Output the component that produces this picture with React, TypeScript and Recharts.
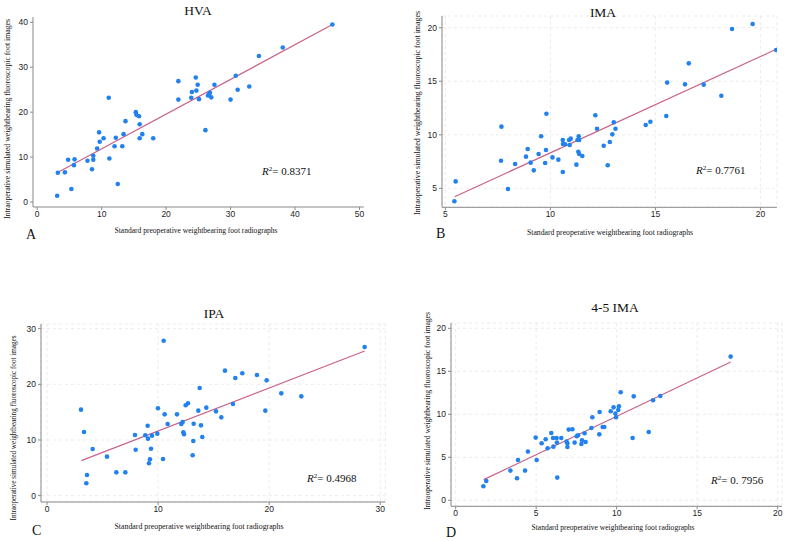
import React from "react";
import {
  ScatterChart,
  Scatter,
  XAxis,
  YAxis,
  CartesianGrid,
  ReferenceLine
} from "recharts";

type Pt = { x: number; y: number };

// HVA
const hvaPoints: Pt[] = [
  { x: 3.1, y: 1.4 }, { x: 3.2, y: 6.5 }, { x: 4.3, y: 6.6 }, { x: 4.8, y: 9.4 },
  { x: 5.3, y: 2.9 }, { x: 5.7, y: 8.2 }, { x: 5.8, y: 9.5 }, { x: 7.8, y: 9.2 },
  { x: 8.5, y: 7.3 }, { x: 8.7, y: 10.3 }, { x: 8.7, y: 9.4 }, { x: 9.3, y: 11.9 },
  { x: 9.6, y: 15.5 }, { x: 9.7, y: 13.4 }, { x: 10.3, y: 14.2 }, { x: 11.1, y: 23.2 },
  { x: 11.2, y: 9.7 }, { x: 12.0, y: 12.4 }, { x: 12.2, y: 14.3 }, { x: 12.5, y: 4.0 },
  { x: 13.2, y: 12.4 }, { x: 13.4, y: 15.1 }, { x: 13.7, y: 18.0 }, { x: 15.3, y: 20.0 },
  { x: 15.4, y: 19.4 }, { x: 15.8, y: 19.1 }, { x: 15.9, y: 17.3 }, { x: 15.9, y: 14.2 },
  { x: 16.3, y: 15.1 }, { x: 18.0, y: 14.2 }, { x: 21.9, y: 26.9 }, { x: 21.9, y: 22.8 },
  { x: 23.9, y: 23.2 }, { x: 24.0, y: 24.5 }, { x: 24.6, y: 27.7 }, { x: 24.7, y: 24.8 },
  { x: 24.9, y: 26.1 }, { x: 25.1, y: 22.9 }, { x: 26.1, y: 16.0 }, { x: 26.5, y: 23.7 },
  { x: 26.7, y: 24.1 }, { x: 26.8, y: 24.3 }, { x: 27.0, y: 23.3 }, { x: 27.5, y: 26.1 },
  { x: 30.0, y: 22.8 }, { x: 30.8, y: 28.1 }, { x: 31.1, y: 25.0 }, { x: 32.9, y: 25.7 },
  { x: 34.4, y: 32.5 }, { x: 38.1, y: 34.4 }, { x: 45.8, y: 39.5 }
];
const hvaFit: Pt[] = [{ x: 3.1, y: 6.5 }, { x: 45.8, y: 39.5 }];
const hvaXTicks = [0, 10, 20, 30, 40, 50];
const hvaYTicks = [0, 10, 20, 30, 40];

// IMA
const imaPoints: Pt[] = [
  { x: 5.43, y: 3.79 }, { x: 5.49, y: 5.65 }, { x: 7.67, y: 10.76 }, { x: 7.65, y: 7.58 },
  { x: 7.98, y: 4.94 }, { x: 8.32, y: 7.27 }, { x: 8.84, y: 7.96 }, { x: 8.92, y: 8.67 },
  { x: 9.06, y: 7.4 }, { x: 9.21, y: 6.68 }, { x: 9.44, y: 8.21 }, { x: 9.56, y: 9.86 },
  { x: 9.75, y: 7.37 }, { x: 9.79, y: 8.58 }, { x: 9.81, y: 11.97 }, { x: 10.1, y: 7.89 },
  { x: 10.38, y: 7.68 }, { x: 10.59, y: 9.51 }, { x: 10.6, y: 9.14 }, { x: 10.59, y: 6.53 },
  { x: 10.7, y: 9.11 }, { x: 10.89, y: 9.51 }, { x: 10.92, y: 9.05 }, { x: 10.97, y: 9.64 },
  { x: 11.24, y: 7.21 }, { x: 11.29, y: 9.51 }, { x: 11.35, y: 9.86 }, { x: 11.37, y: 9.51 },
  { x: 11.33, y: 8.42 }, { x: 11.37, y: 8.21 }, { x: 11.52, y: 8.02 }, { x: 12.14, y: 11.82 },
  { x: 12.22, y: 10.57 }, { x: 12.54, y: 8.98 }, { x: 12.73, y: 7.15 }, { x: 12.83, y: 9.33 },
  { x: 12.95, y: 10.04 }, { x: 13.02, y: 11.16 }, { x: 13.1, y: 10.57 }, { x: 14.54, y: 10.91 },
  { x: 14.76, y: 11.22 }, { x: 15.52, y: 11.75 }, { x: 15.56, y: 14.87 }, { x: 16.41, y: 14.71 },
  { x: 16.59, y: 16.67 }, { x: 17.3, y: 14.68 }, { x: 18.14, y: 13.65 }, { x: 18.65, y: 19.88 },
  { x: 19.63, y: 20.34 }, { x: 20.75, y: 17.92 }
];
const imaFit: Pt[] = [{ x: 5.44, y: 4.22 }, { x: 20.75, y: 17.98 }];
const imaXTicks = [5, 10, 15, 20];
const imaYTicks = [5, 10, 15, 20];

// IPA
const ipaPoints: Pt[] = [
  { x: 3.06, y: 15.45 }, { x: 3.33, y: 11.44 }, { x: 3.6, y: 3.71 }, { x: 3.54, y: 2.22 },
  { x: 4.11, y: 8.38 }, { x: 5.4, y: 7.01 }, { x: 6.24, y: 4.19 }, { x: 7.05, y: 4.19 },
  { x: 7.92, y: 10.9 }, { x: 7.98, y: 8.26 }, { x: 8.85, y: 10.84 }, { x: 9.06, y: 12.57 },
  { x: 9.09, y: 10.24 }, { x: 9.18, y: 5.81 }, { x: 9.27, y: 6.53 }, { x: 9.36, y: 8.44 },
  { x: 9.45, y: 10.78 }, { x: 9.93, y: 11.14 }, { x: 9.99, y: 15.69 }, { x: 10.44, y: 6.59 },
  { x: 10.5, y: 27.84 }, { x: 10.59, y: 14.61 }, { x: 10.86, y: 12.87 }, { x: 11.7, y: 14.61 },
  { x: 12.09, y: 12.87 }, { x: 12.21, y: 13.23 }, { x: 12.27, y: 11.38 }, { x: 12.33, y: 11.02 },
  { x: 12.48, y: 16.23 }, { x: 12.69, y: 16.59 }, { x: 13.11, y: 7.25 }, { x: 13.17, y: 9.82 },
  { x: 13.2, y: 12.93 }, { x: 13.62, y: 15.27 }, { x: 13.74, y: 19.34 }, { x: 13.86, y: 12.63 },
  { x: 13.98, y: 10.54 }, { x: 14.34, y: 15.81 }, { x: 15.21, y: 15.15 }, { x: 15.69, y: 14.07 },
  { x: 16.02, y: 22.46 }, { x: 16.74, y: 16.47 }, { x: 16.95, y: 21.14 }, { x: 17.58, y: 21.98 },
  { x: 18.9, y: 21.68 }, { x: 19.65, y: 15.27 }, { x: 19.77, y: 20.72 }, { x: 21.09, y: 18.38 },
  { x: 22.89, y: 17.84 }, { x: 28.59, y: 26.71 }
];
const ipaFit: Pt[] = [{ x: 3.09, y: 6.29 }, { x: 28.59, y: 25.99 }];
const ipaXTicks = [0, 10, 20, 30];
const ipaYTicks = [0, 10, 20, 30];

// 4-5 IMA
const ima45Points: Pt[] = [
  { x: 1.72, y: 1.63 }, { x: 1.9, y: 2.25 }, { x: 3.4, y: 3.45 }, { x: 3.81, y: 2.56 },
  { x: 3.87, y: 4.69 }, { x: 4.31, y: 3.45 }, { x: 4.49, y: 5.66 }, { x: 4.97, y: 7.29 },
  { x: 5.03, y: 4.69 }, { x: 5.34, y: 6.63 }, { x: 5.59, y: 7.09 }, { x: 5.71, y: 6.05 },
  { x: 5.94, y: 7.83 }, { x: 6.05, y: 7.25 }, { x: 6.07, y: 6.24 }, { x: 6.27, y: 7.25 },
  { x: 6.29, y: 6.71 }, { x: 6.31, y: 2.64 }, { x: 6.56, y: 7.25 }, { x: 6.89, y: 6.82 },
  { x: 6.94, y: 6.63 }, { x: 6.94, y: 6.2 }, { x: 7.02, y: 8.22 }, { x: 7.25, y: 8.26 },
  { x: 7.39, y: 6.71 }, { x: 7.52, y: 7.44 }, { x: 7.6, y: 7.56 }, { x: 7.81, y: 6.55 },
  { x: 7.85, y: 6.98 }, { x: 8.01, y: 7.79 }, { x: 8.07, y: 6.78 }, { x: 8.43, y: 8.41 },
  { x: 8.49, y: 9.65 }, { x: 8.92, y: 7.67 }, { x: 8.94, y: 10.27 }, { x: 9.13, y: 8.53 },
  { x: 9.23, y: 8.53 }, { x: 9.63, y: 10.35 }, { x: 9.81, y: 10.81 }, { x: 9.92, y: 10.08 },
  { x: 9.96, y: 9.65 }, { x: 10.1, y: 10.5 }, { x: 10.14, y: 10.93 }, { x: 10.25, y: 12.56 },
  { x: 10.99, y: 7.25 }, { x: 11.06, y: 12.09 }, { x: 11.99, y: 7.95 }, { x: 12.26, y: 11.63 },
  { x: 12.71, y: 12.13 }, { x: 17.08, y: 16.71 }
];
const ima45Fit: Pt[] = [{ x: 1.74, y: 2.4 }, { x: 17.08, y: 16.09 }];
const ima45XTicks = [0, 5, 10, 15, 20];
const ima45YTicks = [0, 5, 10, 15, 20];

const DOT = "#2181ee";
const FIT = "#c9628a";
const AXIS = "#8a8a8a";
const SERIF = "'Liberation Serif', 'Times New Roman', serif";
const SANS = "'Liberation Sans', Arial, sans-serif";

const xLabel = "Standard preoperative weightbearing foot radiographs";
const yLabel = "Intraoperative simulated weightbearing fluoroscopic foot images";

type PanelProps = {
  points: Pt[];
  fit: Pt[];
  xTicks: number[];
  yTicks: number[];
  xDomain: [number, number];
  yDomain: [number, number];
  // plot box in page pixels
  box: { l: number; t: number; r: number; b: number };
  grid: boolean;
};

const Dot = (props: any) => (
  <circle cx={props.cx} cy={props.cy} r={2.3} fill={DOT} />
);

function Panel({ points, fit, xTicks, yTicks, xDomain, yDomain, box, grid }: PanelProps) {
  const yW = 30;
  const xH = 20;
  const left = box.l - yW;
  const top = box.t - 4;
  const width = box.r - left + 4;
  const height = box.b - top + xH;
  const tick = { fontSize: 8.5, fill: "#1e1e1e", fontFamily: SANS };
  return (
    <div style={{ position: "absolute", left, top }}>
      <ScatterChart
        width={width}
        height={height}
        margin={{ top: 4, right: 4, bottom: 0, left: 0 }}
      >
        {grid && (
          <CartesianGrid stroke="#e6e6e6" strokeDasharray="3 3" strokeWidth={0.8} />
        )}
        <XAxis
          type="number"
          dataKey="x"
          domain={xDomain}
          ticks={xTicks}
          allowDataOverflow
          height={xH}
          tick={tick}
          tickSize={3}
          tickMargin={1}
          stroke={AXIS}
          tickLine={{ stroke: AXIS }}
          interval={0}
        />
        <YAxis
          type="number"
          dataKey="y"
          domain={yDomain}
          ticks={yTicks}
          allowDataOverflow
          width={yW}
          tick={tick}
          tickSize={3}
          tickMargin={2}
          stroke={AXIS}
          tickLine={{ stroke: AXIS }}
          interval={0}
        />
        <Scatter data={points} shape={Dot} isAnimationActive={false} />
        <ReferenceLine
          segment={[fit[0], fit[1]]}
          stroke={FIT}
          strokeWidth={1.2}
        />
      </ScatterChart>
    </div>
  );
}

type Annot = {
  title: string;
  titleX: number;
  titleY: number;
  letter: string;
  letterX: number;
  letterY: number;
  xlX: number;
  xlY: number;
  xlLen: number;
  ylX: number;
  ylY: number;
  ylLen: number;
  r2: string;
  r2X: number;
  r2Y: number;
};

const annots: Annot[] = [
  { title: "HVA", titleX: 198, titleY: 15, letter: "A", letterX: 26, letterY: 239,
    xlX: 196, xlY: 233, xlLen: 163, ylX: 10, ylY: 119, ylLen: 200,
    r2: "0.8371", r2X: 262, r2Y: 175 },
  { title: "IMA", titleX: 603, titleY: 17, letter: "B", letterX: 436, letterY: 238,
    xlX: 610, xlY: 235, xlLen: 166, ylX: 420, ylY: 113, ylLen: 204,
    r2: "0.7761", r2X: 696, r2Y: 174 },
  { title: "IPA", titleX: 214, titleY: 318, letter: "C", letterX: 32, letterY: 535,
    xlX: 199, xlY: 529, xlLen: 169, ylX: 16, ylY: 428, ylLen: 185,
    r2: "0.4968", r2X: 307, r2Y: 482 },
  { title: "4-5 IMA", titleX: 615, titleY: 312, letter: "D", letterX: 446, letterY: 537,
    xlX: 613, xlY: 530, xlLen: 163, ylX: 430, ylY: 411, ylLen: 198,
    r2: "0. 7956", r2X: 711, r2Y: 484 }
];

function Labels() {
  return (
    <svg
      width={788}
      height={541}
      style={{ position: "absolute", left: 0, top: 0, pointerEvents: "none" }}
    >
      {annots.map((a) => (
        <g key={a.letter} fontFamily={SERIF} fill="#111">
          <text x={a.titleX} y={a.titleY} textAnchor="middle" fontSize={13.5}>
            {a.title}
          </text>
          <text x={a.letterX} y={a.letterY} fontSize={14}>
            {a.letter}
          </text>
          <text
            x={a.xlX}
            y={a.xlY}
            textAnchor="middle"
            fontSize={7.6}
            textLength={a.xlLen}
            lengthAdjust="spacingAndGlyphs"
          >
            {xLabel}
          </text>
          <text
            x={0}
            y={0}
            transform={`translate(${a.ylX},${a.ylY}) rotate(-90)`}
            textAnchor="middle"
            fontSize={7.8}
            textLength={a.ylLen}
            lengthAdjust="spacingAndGlyphs"
          >
            {yLabel}
          </text>
          <text x={a.r2X} y={a.r2Y} fontSize={11}>
            <tspan fontStyle="italic">R</tspan>
            <tspan fontSize={7} dy={-4}>2</tspan>
            <tspan dy={4}>{"= " + a.r2}</tspan>
          </text>
        </g>
      ))}
    </svg>
  );
}

export default function App() {
  return (
    <div
      style={{
        position: "absolute",
        left: 0,
        top: 0,
        width: 788,
        height: 541,
        background: "#fff",
        overflow: "hidden"
      }}
    >
      <Panel
        points={hvaPoints}
        fit={hvaFit}
        xTicks={hvaXTicks}
        yTicks={hvaYTicks}
        xDomain={[-0.65, 50.67]}
        yDomain={[-1.11, 41.18]}
        box={{ l: 32.5, t: 17, r: 363.3, b: 207 }}
        grid={false}
      />
      <Panel
        points={imaPoints}
        fit={imaFit}
        xTicks={imaXTicks}
        yTicks={imaYTicks}
        xDomain={[4.84, 20.79]}
        yDomain={[3.23, 21.09]}
        box={{ l: 442.3, t: 16, r: 777.3, b: 207.3 }}
        grid
      />
      <Panel
        points={ipaPoints}
        fit={ipaFit}
        xTicks={ipaXTicks}
        yTicks={ipaYTicks}
        xDomain={[-0.54, 30.45]}
        yDomain={[-1.14, 30.84]}
        box={{ l: 40.7, t: 324.3, r: 385, b: 502.3 }}
        grid
      />
      <Panel
        points={ima45Points}
        fit={ima45Fit}
        xTicks={ima45XTicks}
        yTicks={ima45YTicks}
        xDomain={[-0.29, 20.27]}
        yDomain={[-0.7, 20.62]}
        box={{ l: 451.3, t: 322.7, r: 782.3, b: 506 }}
        grid
      />
      <Labels />
    </div>
  );
}
